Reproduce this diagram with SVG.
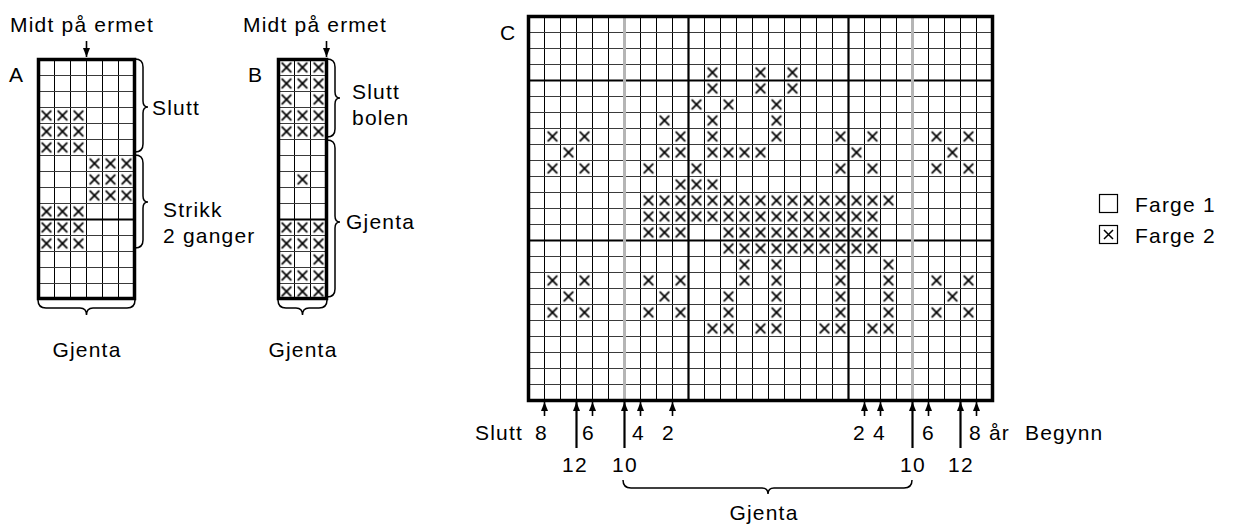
<svg xmlns="http://www.w3.org/2000/svg" width="1234" height="524" viewBox="0 0 1234 524">
<style>
.t{font-family:"Liberation Sans",Arial,Helvetica,sans-serif;font-size:21px;letter-spacing:1.2px;fill:#000}
.gv{fill:none;stroke:#000;stroke-width:1}
.gh{fill:none;stroke:#3a3a3a;stroke-width:1}
.thick{fill:none;stroke:#000;stroke-width:2.2}
.grey{fill:none;stroke:#b5b5b5;stroke-width:3}
.border{fill:none;stroke:#000;stroke-width:3.5}
.xc{fill:url(#xp)}
.brace{fill:none;stroke:#000;stroke-width:1.5}
.arr{fill:none;stroke:#000;stroke-width:1.6;marker-end:url(#ah)}
.arrl{fill:none;stroke:#000;stroke-width:2.2;marker-end:url(#ah)}
</style>
<defs>
<pattern id="xp" width="16" height="16" patternUnits="userSpaceOnUse">
<path d="M3.2,3.2L12.8,12.8M12.8,3.2L3.2,12.8" stroke="#000" stroke-width="1.7" fill="none"/>
</pattern>
<marker id="ah" viewBox="0 0 10 10" refX="10" refY="5" markerWidth="9" markerHeight="7" markerUnits="userSpaceOnUse" orient="auto" preserveAspectRatio="none">
<path d="M0,0L10,5L0,10z" fill="#000"/>
</marker>
</defs>

<!-- Chart A -->
<g id="chartA" transform="translate(38.5,59.5)">
<rect x="0" y="0" width="96" height="239" fill="#fff"/>
<rect class="xc" x="0" y="48" width="48" height="48"/>
<rect class="xc" x="48" y="96" width="48" height="48"/>
<rect class="xc" x="0" y="144" width="48" height="48"/>
<path class="gv" d="M16,0V239M32,0V239M48,0V239M64,0V239M80,0V239"/>
<path class="gh" d="M0,16H96M0,32H96M0,48H96M0,64H96M0,80H96M0,96H96M0,112H96M0,128H96M0,144H96M0,176H96M0,192H96M0,208H96M0,224H96"/>
<path class="thick" d="M0,160H96"/>
<rect class="border" x="0" y="0" width="96" height="239"/>
</g>
<text id="labelA" class="t" x="9" y="82">A</text>

<!-- Chart B -->
<g id="chartB" transform="translate(278.5,59.5)">
<rect x="0" y="0" width="48" height="239" fill="#fff"/>
<rect class="xc" x="0" y="0" width="48" height="32"/>
<rect class="xc" x="0" y="32" width="16" height="16"/>
<rect class="xc" x="32" y="32" width="16" height="16"/>
<rect class="xc" x="0" y="48" width="48" height="32"/>
<rect class="xc" x="16" y="112" width="16" height="16"/>
<rect class="xc" x="0" y="160" width="48" height="32"/>
<rect class="xc" x="0" y="192" width="16" height="16"/>
<rect class="xc" x="32" y="192" width="16" height="16"/>
<rect class="xc" x="0" y="208" width="48" height="31"/>
<path class="gv" d="M16,0V239M32,0V239"/>
<path class="gh" d="M0,16H48M0,32H48M0,48H48M0,64H48M0,80H48M0,96H48M0,112H48M0,128H48M0,144H48M0,176H48M0,192H48M0,208H48M0,224H48"/>
<path class="thick" d="M0,160H48"/>
<rect class="border" x="0" y="0" width="48" height="239"/>
</g>
<text id="labelB" class="t" x="248" y="82">B</text>

<!-- Chart C -->
<g id="chartC" transform="translate(528.5,16.5)">
<rect x="0" y="0" width="464" height="384" fill="#fff"/>
<rect class="xc" x="176" y="48" width="16" height="32"/>
<rect class="xc" x="224" y="48" width="16" height="32"/>
<rect class="xc" x="256" y="48" width="16" height="32"/>
<rect class="xc" x="160" y="80" width="16" height="16"/>
<rect class="xc" x="192" y="80" width="16" height="16"/>
<rect class="xc" x="240" y="80" width="16" height="48"/>
<rect class="xc" x="128" y="96" width="16" height="16"/>
<rect class="xc" x="176" y="96" width="16" height="32"/>
<rect class="xc" x="16" y="112" width="16" height="16"/>
<rect class="xc" x="48" y="112" width="16" height="16"/>
<rect class="xc" x="144" y="112" width="16" height="16"/>
<rect class="xc" x="304" y="112" width="16" height="16"/>
<rect class="xc" x="336" y="112" width="16" height="16"/>
<rect class="xc" x="400" y="112" width="16" height="16"/>
<rect class="xc" x="432" y="112" width="16" height="16"/>
<rect class="xc" x="32" y="128" width="16" height="16"/>
<rect class="xc" x="128" y="128" width="32" height="16"/>
<rect class="xc" x="176" y="128" width="64" height="16"/>
<rect class="xc" x="320" y="128" width="16" height="16"/>
<rect class="xc" x="416" y="128" width="16" height="16"/>
<rect class="xc" x="16" y="144" width="16" height="16"/>
<rect class="xc" x="48" y="144" width="16" height="16"/>
<rect class="xc" x="112" y="144" width="16" height="16"/>
<rect class="xc" x="160" y="144" width="16" height="16"/>
<rect class="xc" x="304" y="144" width="16" height="16"/>
<rect class="xc" x="336" y="144" width="16" height="16"/>
<rect class="xc" x="400" y="144" width="16" height="16"/>
<rect class="xc" x="432" y="144" width="16" height="16"/>
<rect class="xc" x="144" y="160" width="48" height="16"/>
<rect class="xc" x="112" y="176" width="256" height="16"/>
<rect class="xc" x="112" y="192" width="240" height="16"/>
<rect class="xc" x="112" y="208" width="48" height="16"/>
<rect class="xc" x="192" y="208" width="160" height="16"/>
<rect class="xc" x="192" y="224" width="160" height="16"/>
<rect class="xc" x="240" y="240" width="16" height="80"/>
<rect class="xc" x="304" y="240" width="16" height="80"/>
<rect class="xc" x="352" y="240" width="16" height="80"/>
<rect class="xc" x="208" y="240" width="16" height="32"/>
<rect class="xc" x="16" y="256" width="16" height="16"/>
<rect class="xc" x="48" y="256" width="16" height="16"/>
<rect class="xc" x="112" y="256" width="16" height="16"/>
<rect class="xc" x="144" y="256" width="16" height="16"/>
<rect class="xc" x="400" y="256" width="16" height="16"/>
<rect class="xc" x="432" y="256" width="16" height="16"/>
<rect class="xc" x="32" y="272" width="16" height="16"/>
<rect class="xc" x="128" y="272" width="16" height="16"/>
<rect class="xc" x="416" y="272" width="16" height="16"/>
<rect class="xc" x="192" y="272" width="16" height="48"/>
<rect class="xc" x="16" y="288" width="16" height="16"/>
<rect class="xc" x="48" y="288" width="16" height="16"/>
<rect class="xc" x="112" y="288" width="16" height="16"/>
<rect class="xc" x="144" y="288" width="16" height="16"/>
<rect class="xc" x="400" y="288" width="16" height="16"/>
<rect class="xc" x="432" y="288" width="16" height="16"/>
<rect class="xc" x="176" y="304" width="16" height="16"/>
<rect class="xc" x="224" y="304" width="16" height="16"/>
<rect class="xc" x="288" y="304" width="16" height="16"/>
<rect class="xc" x="336" y="304" width="16" height="16"/>
<path class="gv" d="M16,0V384M32,0V384M48,0V384M64,0V384M80,0V384M96,0V384M112,0V384M128,0V384M144,0V384M160,0V384M176,0V384M192,0V384M208,0V384M224,0V384M240,0V384M256,0V384M272,0V384M288,0V384M304,0V384M320,0V384M336,0V384M352,0V384M368,0V384M384,0V384M400,0V384M416,0V384M432,0V384M448,0V384"/>
<path class="gh" d="M0,16H464M0,32H464M0,48H464M0,64H464M0,80H464M0,96H464M0,112H464M0,128H464M0,144H464M0,160H464M0,176H464M0,192H464M0,208H464M0,224H464M0,240H464M0,256H464M0,272H464M0,288H464M0,304H464M0,320H464M0,336H464M0,352H464M0,368H464"/>
<path class="thick" d="M160,0V384M320,0V384M0,64H464M0,224H464"/>
<path class="grey" d="M96,0V384M384,0V384"/>
<rect class="border" x="0" y="0" width="464" height="384"/>
</g>
<text id="labelC" class="t" x="500" y="40">C</text>

<!-- Connectors (arrows) -->
<g id="connectors">
<line class="arr" x1="86.5" y1="41" x2="86.5" y2="57"/>
<line class="arr" x1="326.5" y1="41" x2="326.5" y2="57"/>
<line class="arr" x1="544.5" y1="416" x2="544.5" y2="402"/>
<line class="arrl" x1="576.5" y1="448" x2="576.5" y2="402"/>
<line class="arr" x1="592.5" y1="416" x2="592.5" y2="402"/>
<line class="arrl" x1="624.5" y1="448" x2="624.5" y2="402"/>
<line class="arr" x1="640.5" y1="416" x2="640.5" y2="402"/>
<line class="arr" x1="672.5" y1="416" x2="672.5" y2="402"/>
<line class="arr" x1="864.5" y1="416" x2="864.5" y2="402"/>
<line class="arr" x1="880.5" y1="416" x2="880.5" y2="402"/>
<line class="arrl" x1="912.5" y1="448" x2="912.5" y2="402"/>
<line class="arr" x1="928.5" y1="416" x2="928.5" y2="402"/>
<line class="arrl" x1="960.5" y1="448" x2="960.5" y2="402"/>
<line class="arr" x1="976.5" y1="416" x2="976.5" y2="402"/>
</g>

<!-- Braces -->
<g id="braces">
<path class="brace" d="M135,59Q143,59 143,67V101Q143,107 148,107Q143,107 143,113V144Q143,152 135,152"/>
<path class="brace" d="M135,155Q143,155 143,163V196Q143,202 148,202Q143,202 143,208V240Q143,248 135,248"/>
<path class="brace" d="M38,300Q38,308 46,308H80Q86.5,308 86.5,315Q86.5,308 93,308H127Q135,308 135,300"/>
<path class="brace" d="M327,59Q335,59 335,67V92Q335,98 340,98Q335,98 335,104V129Q335,137 327,137"/>
<path class="brace" d="M327,140Q335,140 335,148V216Q335,222 340,222Q335,222 335,228V289Q335,297 327,297"/>
<path class="brace" d="M278,300Q278,308 286,308H296Q302.5,308 302.5,315Q302.5,308 309,308H319Q327,308 327,300"/>
<path class="brace" d="M623,480Q623,488 631,488H762Q768,488 768,494Q768,488 774,488H904Q912,488 912,480"/>
</g>

<!-- Labels -->
<g id="labels">
<text class="t" x="10" y="32">Midt på ermet</text>
<text class="t" x="243" y="32">Midt på ermet</text>
<text class="t" x="152" y="115">Slutt</text>
<text class="t" x="163" y="217">Strikk</text>
<text class="t" x="163" y="243">2 ganger</text>
<text class="t" x="87" y="357" text-anchor="middle">Gjenta</text>
<text class="t" x="352" y="99">Slutt</text>
<text class="t" x="352" y="125">bolen</text>
<text class="t" x="346" y="229">Gjenta</text>
<text class="t" x="303" y="357" text-anchor="middle">Gjenta</text>
<text class="t" x="475" y="440">Slutt</text>
<text class="t" x="535" y="440">8</text>
<text class="t" x="582" y="440">6</text>
<text class="t" x="632" y="440">4</text>
<text class="t" x="662" y="440">2</text>
<text class="t" x="853" y="440">2</text>
<text class="t" x="873" y="440">4</text>
<text class="t" x="922" y="440">6</text>
<text class="t" x="969" y="440">8 år</text>
<text class="t" x="1025" y="440">Begynn</text>
<text class="t" x="562" y="472">12</text>
<text class="t" x="612" y="472">10</text>
<text class="t" x="900" y="472">10</text>
<text class="t" x="948" y="472">12</text>
<text class="t" x="764" y="520" text-anchor="middle">Gjenta</text>
</g>

<!-- Legend -->
<g id="legend1">
<rect x="1099.5" y="194.5" width="18" height="18" fill="#fff" stroke="#000" stroke-width="1.2"/>
<text class="t" x="1135" y="212">Farge 1</text>
</g>
<g id="legend2">
<rect x="1099.5" y="225.5" width="18" height="18" fill="#fff" stroke="#000" stroke-width="1.2"/>
<path d="M1104,230L1113,239M1113,230L1104,239" stroke="#000" stroke-width="1.5" fill="none"/>
<text class="t" x="1135" y="243">Farge 2</text>
</g>
</svg>
